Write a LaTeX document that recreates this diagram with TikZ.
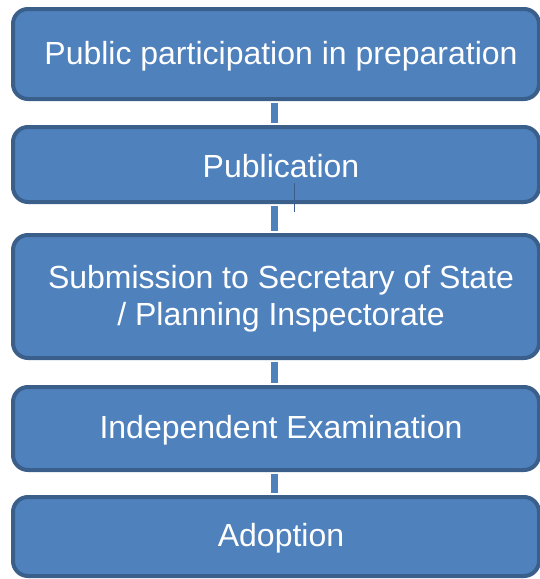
\documentclass[tikz,border=0pt]{standalone}
\usepackage{fontspec}
\setmainfont{Liberation Sans}
\usetikzlibrary{positioning}
\definecolor{boxfill}{HTML}{4F81BD}
\definecolor{boxline}{HTML}{3A5F8B}
\begin{document}
\begin{tikzpicture}[x=1pt, y=-1pt]
      % Node style
      \tikzset{
        stagebox/.style={draw=boxline, fill=boxfill, line width=4pt, rounded corners=15pt,
          minimum width=526pt, inner sep=0pt},
        stagetext/.style={xshift=5pt, yshift=-2pt, align=center, text=white,
          font=\fontsize{32}{37}\selectfont},
        link/.style={draw=boxfill, line width=7pt, shorten <=2pt, shorten >=2pt},
      }
      \useasboundingbox (0,0) rectangle (539,579);
      % Nodes
      \node (prep) [stagebox, minimum height=90pt,
        label={[stagetext]center:Public participation in preparation}] at (276,54) {};
      \node (pub) [stagebox, minimum height=75pt,
        label={[stagetext]center:Publication}] at (276,164.5) {};
      \node (sub) [stagebox, minimum height=123pt,
        label={[stagetext]center:Submission to Secretary of State\\/ Planning Inspectorate}] at (276,296.5) {};
      \node (exam) [stagebox, minimum height=83pt,
        label={[stagetext]center:Independent Examination}] at (276,428.5) {};
      \node (adopt) [stagebox, minimum height=79pt,
        label={[stagetext]center:Adoption}] at (276,536.5) {};
      % Connectors
      \draw[link] ([xshift=-2pt]prep.south) -- ([xshift=-2pt]pub.north);
      \draw[link] ([xshift=-2pt]pub.south) -- ([xshift=-2pt]sub.north);
      \draw[link] ([xshift=-2pt]sub.south) -- ([xshift=-2pt]exam.north);
      \draw[link] ([xshift=-2pt]exam.south) -- ([xshift=-2pt]adopt.north);
      % stray tick
      \coordinate (tickA) at (294,183);
      \coordinate (tickB) at (294,212);
      \draw[boxline, line width=1pt] (tickA) -- (tickB);
\end{tikzpicture}
\end{document}
